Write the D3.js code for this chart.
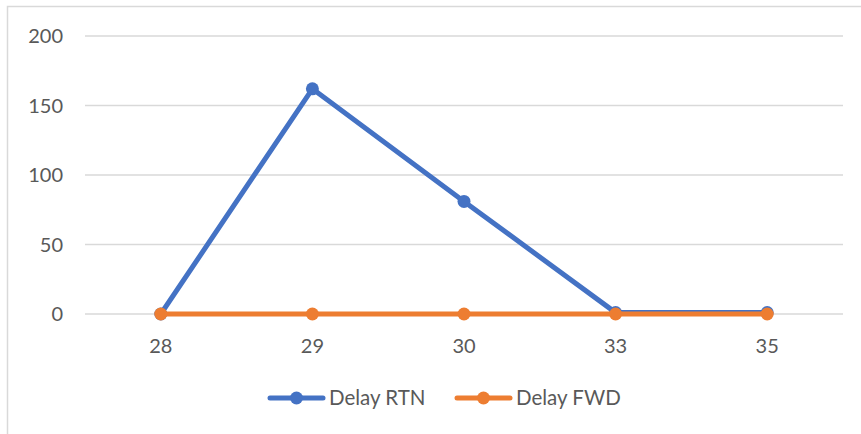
<!DOCTYPE html>
<html>
<head>
<meta charset="utf-8">
<script src="https://cdn.jsdelivr.net/npm/d3@7"></script>
<style>
  body { margin: 0; background: #fff; }
  svg text { font-family: Lato, "Open Sans", sans-serif; fill: #595959; }
</style>
</head>
<body>
<svg id="chart" width="861" height="434"></svg>
<script>
const categories = ["28", "29", "30", "33", "35"];
const delayRtn = [0, 162, 81, 1, 1];
const delayFwd = [0, 0, 0, 0, 0];
const yTicks = [0, 50, 100, 150, 200];

const series = [
    {name: "Delay RTN", values: delayRtn, color: "#4472C4"},
    {name: "Delay FWD", values: delayFwd, color: "#ED7D31"}
];

const svg = d3.select("#chart");

// chart frame (only top and left edges show in the picture)
svg.append("rect")
    .attr("x", 7.5).attr("y", 6.5)
    .attr("width", 900).attr("height", 500)
    .attr("fill", "none")
    .attr("stroke", "#D9D9D9")
    .attr("stroke-width", 1.5);

const x = d3.scaleBand()
    .domain(categories)
    .range([85, 843]);

const y = d3.scaleLinear()
    .domain([0, 200])
    .range([314, 36]);

// gridlines
svg.append("g")
    .selectAll("line")
    .data(yTicks)
    .enter()
    .append("line")
    .attr("x1", 85).attr("x2", 843)
    .attr("y1", d => y(d)).attr("y2", d => y(d))
    .attr("stroke", "#D9D9D9")
    .attr("stroke-width", 1.3);

// y labels
svg.append("g")
    .selectAll("text")
    .data(yTicks)
    .enter()
    .append("text")
    .attr("x", 63)
    .attr("y", d => y(d))
    .attr("dy", "0.35em")
    .attr("text-anchor", "end")
    .style("font-size", "20px")
    .text(d => d);

// x labels
svg.append("g")
    .selectAll("text")
    .data(categories)
    .enter()
    .append("text")
    .attr("x", d => x(d) + x.bandwidth() / 2)
    .attr("y", 346)
    .attr("dy", "0.35em")
    .attr("text-anchor", "middle")
    .style("font-size", "20px")
    .text(d => d);

const line = d3.line()
    .x((d, i) => x(categories[i]) + x.bandwidth() / 2)
    .y(d => y(d));

series.forEach(s => {
    const g = svg.append("g");
    g.append("path")
        .attr("d", line(s.values))
        .attr("fill", "none")
        .attr("stroke", s.color)
        .attr("stroke-width", 5)
        .attr("stroke-linejoin", "round")
        .attr("stroke-linecap", "round");
    g.selectAll("circle")
        .data(s.values)
        .enter()
        .append("circle")
        .attr("cx", (d, i) => x(categories[i]) + x.bandwidth() / 2)
        .attr("cy", d => y(d))
        .attr("r", 6.5)
        .attr("fill", s.color);
});

// legend
const legend = svg.append("g")
    .selectAll("g")
    .data(series)
    .enter()
    .append("g")
    .attr("transform", (d, i) => `translate(${[270, 457][i]},398)`);

legend.append("line")
    .attr("x1", 0).attr("x2", 53)
    .attr("stroke", d => d.color)
    .attr("stroke-width", 5)
    .attr("stroke-linecap", "round");
legend.append("circle")
    .attr("cx", 26.5)
    .attr("r", 6.5)
    .attr("fill", d => d.color);
legend.append("text")
    .attr("x", 59)
    .attr("dy", "0.35em")
    .style("font-size", "20.5px")
    .text(d => d.name);
</script>
</body>
</html>
